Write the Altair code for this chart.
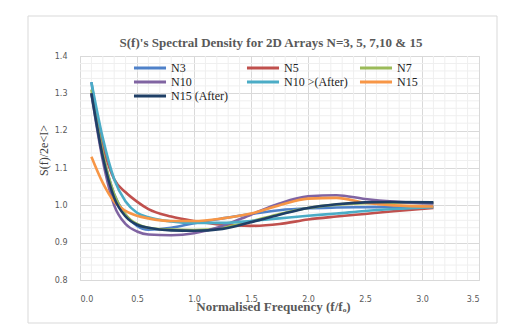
import altair as alt
import pandas as pd
import numpy as np

# ---------------- data ----------------
freq = [0.1, 0.2, 0.3, 0.4, 0.5, 0.6, 0.8, 1.0, 1.25, 1.5, 1.75, 2.0, 2.25, 2.5, 2.75, 3.1]
n3 = [1.33, 1.14, 1.03, 0.975, 0.945, 0.935, 0.940, 0.952, 0.965, 0.977, 0.987, 0.992, 0.994, 0.995, 0.996, 0.998]
n5 = [1.30, 1.16, 1.07, 1.035, 1.010, 0.990, 0.970, 0.958, 0.948, 0.945, 0.950, 0.962, 0.970, 0.977, 0.984, 0.993]
n7 = [1.31, 1.14, 1.03, 0.975, 0.950, 0.940, 0.935, 0.934, 0.940, 0.957, 0.977, 0.993, 1.002, 1.006, 1.007, 1.006]
n10 = [1.30, 1.12, 1.00, 0.950, 0.930, 0.922, 0.920, 0.925, 0.945, 0.975, 1.005, 1.024, 1.027, 1.017, 1.010, 1.005]
n10_after = [1.33, 1.18, 1.07, 1.010, 0.980, 0.968, 0.957, 0.953, 0.953, 0.958, 0.965, 0.972, 0.978, 0.985, 0.990, 0.995]
n15 = [1.13, 1.06, 1.01, 0.985, 0.972, 0.965, 0.958, 0.958, 0.965, 0.978, 1.000, 1.018, 1.020, 1.007, 1.000, 0.997]
n15_after = [1.30, 1.13, 1.02, 0.970, 0.948, 0.940, 0.933, 0.932, 0.937, 0.955, 0.975, 0.993, 1.003, 1.008, 1.009, 1.008]

series_names = ["N3", "N5", "N7", "N10", "N10 >(After)", "N15", "N15 (After)"]
series_values = [n3, n5, n7, n10, n10_after, n15, n15_after]
series_colors = ["#4F81C9", "#C0504D", "#9BBB59", "#8064A2", "#4BACC6", "#F79646", "#1F3F66"]

x_ticks = [0.0, 0.5, 1.0, 1.5, 2.0, 2.5, 3.0, 3.5]
y_ticks = [0.8, 0.9, 1.0, 1.1, 1.2, 1.3, 1.4]

title_text = "S(f)'s Spectral Density for 2D Arrays N=3, 5, 7,10 & 15"
x_title = "Normalised Frequency (f/fₒ)"
y_title = "S(f)/2e<I>"

rows = []
for k, (name, vals) in enumerate(zip(series_names, series_values)):
    for f, v in zip(freq, vals):
        rows.append({"freq": f, "S": v, "series": name, "k": k})
df = pd.DataFrame(rows)

minor_x = pd.DataFrame({"freq": [round(v, 2) for v in np.arange(0.1, 3.45, 0.1) if abs(v * 2 - round(v * 2)) > 1e-6]})
minor_y = pd.DataFrame({"S": [round(v, 3) for v in np.arange(0.82, 1.39, 0.02) if abs(v * 10 - round(v * 10)) > 1e-6]})

W, H = 399, 224
xscale = alt.Scale(domain=[0, 3.5], nice=False, zero=False)
yscale = alt.Scale(domain=[0.8, 1.4], nice=False, zero=False)

x_axis = alt.Axis(values=x_ticks, format=".1f", grid=True, gridColor="#d9d9d9",
                  tickSize=0, domain=False, labelPadding=15,
                  labelFont="DejaVu Sans", labelFontSize=8, labelColor="#595959",
                  title=x_title, titleFont="Liberation Serif", titleFontSize=13,
                  titleFontWeight="bold", titleColor="#595959",
                  titleX=193, titleY=26, titleBaseline="middle", titleAlign="center")
y_axis = alt.Axis(values=y_ticks, format=".1f", grid=True, gridColor="#d9d9d9",
                  tickSize=0, domain=False, labelPadding=13,
                  labelFont="DejaVu Sans", labelFontSize=8, labelColor="#595959",
                  title=y_title, titleFont="Liberation Serif", titleFontSize=12,
                  titleFontWeight="normal", titleColor="#404040",
                  titleX=-37, titleY=94, titleBaseline="middle", titleAlign="center")

grid_minor_x = alt.Chart(minor_x).mark_rule(color="#efefef", strokeWidth=1).encode(
    x=alt.X("freq:Q", scale=xscale, axis=x_axis)
)
grid_minor_y = alt.Chart(minor_y).mark_rule(color="#efefef", strokeWidth=1).encode(
    y=alt.Y("S:Q", scale=yscale, axis=y_axis)
)

lines = alt.Chart(df).mark_line(interpolate="monotone", strokeWidth=2.6).encode(
    x=alt.X("freq:Q", scale=xscale, axis=x_axis),
    y=alt.Y("S:Q", scale=yscale, axis=y_axis),
    color=alt.Color("series:N", scale=alt.Scale(domain=series_names, range=series_colors),
                    sort=series_names,
                    legend=alt.Legend(orient="none", legendX=63, legendY=5, columns=3,
                                      direction="horizontal",
                                      title=None, symbolType="M-3,0L3,0", symbolSize=114,
                                      symbolStrokeWidth=3, labelFont="Liberation Serif",
                                      labelFontSize=12, labelColor="#222222", labelOffset=14,
                                      gridAlign="all", columnPadding=5, rowPadding=1,
                                      padding=0, labelLimit=200)),
    order=alt.Order("k:Q"),
)

title_layer = alt.Chart(pd.DataFrame({"t": [title_text]})).mark_text(
    font="Liberation Serif", fontSize=13, fontWeight="bold", color="#595959",
    align="center", baseline="middle"
).encode(text="t:N", x=alt.value(191), y=alt.value(-13))

frame = alt.Chart(pd.DataFrame({"a": [0]})).mark_rect(
    fill=None, stroke="#d9d9d9", strokeWidth=1
).encode(x=alt.value(-52), x2=alt.value(417), y=alt.value(-40), y2=alt.value(267))

chart = alt.layer(frame, grid_minor_x, grid_minor_y, lines, title_layer).properties(
    width=W, height=H,
    autosize=alt.AutoSizeParams(type="none"),
    padding={"left": 72, "top": 48, "right": 40, "bottom": 44},
    background="white",
).configure_view(stroke="#d9d9d9", strokeWidth=1)

chart.save("out.html", embed_options={"renderer": "svg", "actions": False})
